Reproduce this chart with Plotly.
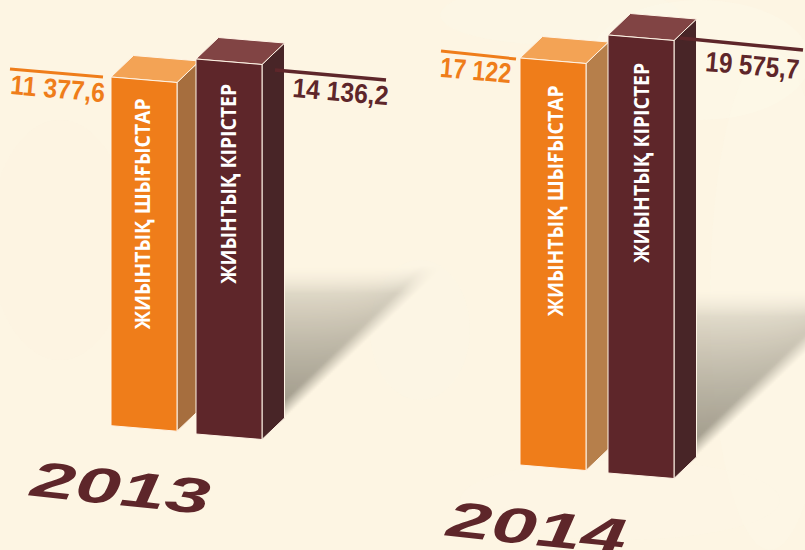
import json
import numpy as np
import plotly.graph_objects as go

# ---- data ----
years = ["2013", "2014"]
series_names = ["ЖИЫНТЫҚ ШЫҒЫСТАР", "ЖИЫНТЫҚ КІРІСТЕР"]
expenses = [11377.6, 17122]
revenues = [14136.2, 19575.7]
expense_labels = ["11 377,6", "17 122"]
revenue_labels = ["14 136,2", "19 575,7"]

# ---- layout of the drawing (the source uses a truncated, skewed value scale) ----
W, H = 805, 550
K = 0.0109                     # pixels per value unit
BG = "#FDF5E3"
ORANGE = dict(front="#EF7D1A", top="#F3A355")
MAROON = dict(front="#5E262A", top="#814444", side="#482527")
ORANGE_SIDES = ["#A66E3E", "#B67F4B"]
LINE = "#FFF4E6"
FRONT_W, SLOPE, DEPTH_X, DEPTH_Y = 66, 5.5, 22.5, 21.5
GROUP_X = [(111, 196), (520, 608)]
LIFT_EXP = [32017, 28016]      # vertical placement of each bar on the value axis
LIFT_REV = [30910, 27672]
BOTTOM_EXP = [11404, 7798]
BOTTOM_REV = [10642, 7064]

fig = go.Figure()


def shadow(x0, y0, x1, ytop, xlen):
    xs = np.arange(x0, x1 + 1, 2.0)
    ys = np.arange(ytop, y0 + 2, 2.0)
    gx, gy = np.meshgrid(xs, ys)
    slope = 0.95
    yline = y0 - slope * (gx - x0)
    rise = np.clip((gy - ytop) / np.maximum(yline - 22 - ytop, 1), 0, 1) ** 0.7
    soft = np.clip((gy - ytop) / 28, 0, 1)
    edge = np.clip((yline - gy) / 18, 0, 1)
    along = np.clip(1 - (gx - x0) / xlen, 0, 1)
    z = rise * soft * edge * along
    fig.add_trace(go.Heatmap(
        x=xs, y=ys, z=z, zmin=0, zmax=1, zsmooth="best", showscale=False, hoverinfo="skip",
        colorscale=[[0, "rgba(140,135,120,0)"], [1, "rgba(140,135,120,0.78)"]],
    ))


shadow(285, 417, 446, 265, 190)
shadow(696, 456, 805, 288, 220)


def face(xs, ys_value, color):
    fig.add_trace(go.Scatter(
        x=xs, y=ys_value, mode="lines", fill="toself", fillcolor=color,
        line=dict(color=LINE, width=1), hoverinfo="skip", yaxis="y2", showlegend=False,
    ))


def bar(x, value, lift, bottom, colors, side):
    top = value + lift
    s = SLOPE / K
    dy = DEPTH_Y / K
    xr = x + FRONT_W
    # side, top, front
    face([xr, xr + DEPTH_X, xr + DEPTH_X, xr, xr],
         [top - s, top - s + dy, bottom - s + dy, bottom - s, top - s], side)
    face([x, x + DEPTH_X, xr + DEPTH_X, xr, x],
         [top, top + dy, top - s + dy, top - s, top], colors["top"])
    face([x, xr, xr, x, x],
         [top, top - s, bottom - s, bottom, top], colors["front"])


for i in range(2):
    bar(GROUP_X[i][0], expenses[i], LIFT_EXP[i], BOTTOM_EXP[i], ORANGE, ORANGE_SIDES[i])
    bar(GROUP_X[i][1], revenues[i], LIFT_REV[i], BOTTOM_REV[i], MAROON, MAROON["side"])

shapes = []
# faint mottling of the paper background
for (cx, cy, rx, ry, c) in [
    (560, 15, 120, 30, "rgba(250,250,232,0.35)"), (700, 60, 110, 60, "rgba(252,249,234,0.4)"),
    (770, 300, 60, 250, "rgba(252,248,232,0.35)"), (420, 330, 50, 70, "rgba(250,247,228,0.35)"),
    (620, 500, 160, 40, "rgba(252,247,230,0.35)"), (60, 240, 70, 120, "rgba(253,243,226,0.5)"),
]:
    shapes.append(dict(type="circle", xref="x", yref="y", x0=cx - rx, x1=cx + rx, y0=cy - ry, y1=cy + ry,
                       fillcolor=c, line=dict(width=0), layer="below"))
for (x0, y0, x1, y1, c, w) in [
    (10, 69, 103, 77, "#EF7D1A", 3), (275, 70, 386, 80, "#5E262A", 3.5),
    (441, 51, 516, 59, "#EF7D1A", 3), (680, 38, 803, 50, "#5E262A", 3.5),
]:
    shapes.append(dict(type="line", xref="x", yref="y", x0=x0, y0=y0, x1=x1, y1=y1,
                       line=dict(color=c, width=w), layer="above"))

ann = []
stretch = []   # annotation index -> drawn text length


def text(t, x, y, size, color, angle=0, family="Liberation Sans", weight="bold", style="normal", length=None):
    stretch.append(length)
    ann.append(dict(text=t, x=x, y=y, xref="x", yref="y", showarrow=False, textangle=angle,
                    xanchor="center", yanchor="middle",
                    font=dict(family=family, size=size, color=color, weight=weight, style=style)))


for (x, y, n, L) in [(142, 214, 0, 231), (228, 184, 1, 200), (555, 201, 0, 231), (641, 163, 1, 200)]:
    text(series_names[n], x, y, 21, "#FFFFFF", -90, family="Open Sans", weight=700, length=L)

text(expense_labels[0], 58, 89, 27, "#EF7D1A", 5, length=95)
text(revenue_labels[0], 340, 92, 27, "#5E262A", 5, length=96)
text(expense_labels[1], 476, 70, 28, "#EF7D1A", 5, length=71)
text(revenue_labels[1], 752, 65, 28, "#5E262A", 5, length=94)
text(years[0], 120, 488, 50, "#5E262A", 6, style="italic", length=180)
text(years[1], 536, 528, 50, "#5E262A", 6, style="italic", length=180)

fig.update_layout(
    width=W, height=H, margin=dict(l=0, r=0, t=0, b=0), paper_bgcolor=BG, plot_bgcolor=BG,
    showlegend=False, shapes=shapes, annotations=ann,
    xaxis=dict(range=[0, W], visible=False, fixedrange=True),
    yaxis=dict(range=[H, 0], visible=False, fixedrange=True),
    yaxis2=dict(range=[0, H / K], visible=False, overlaying="y", fixedrange=True),
)

post = """
document.body.style.margin = '0';
document.body.style.overflow = 'hidden';
var lens = %s;
document.querySelectorAll('.annotation').forEach(function (g) {
  var i = parseInt(g.getAttribute('data-index'));
  var t = g.querySelector('text');
  if (t && lens[i]) {
    t.setAttribute('textLength', lens[i]);
    t.setAttribute('lengthAdjust', 'spacingAndGlyphs');
  }
});
""" % json.dumps(stretch)
fig.write_html("out.html", config=dict(displayModeBar=False), post_script=post)
